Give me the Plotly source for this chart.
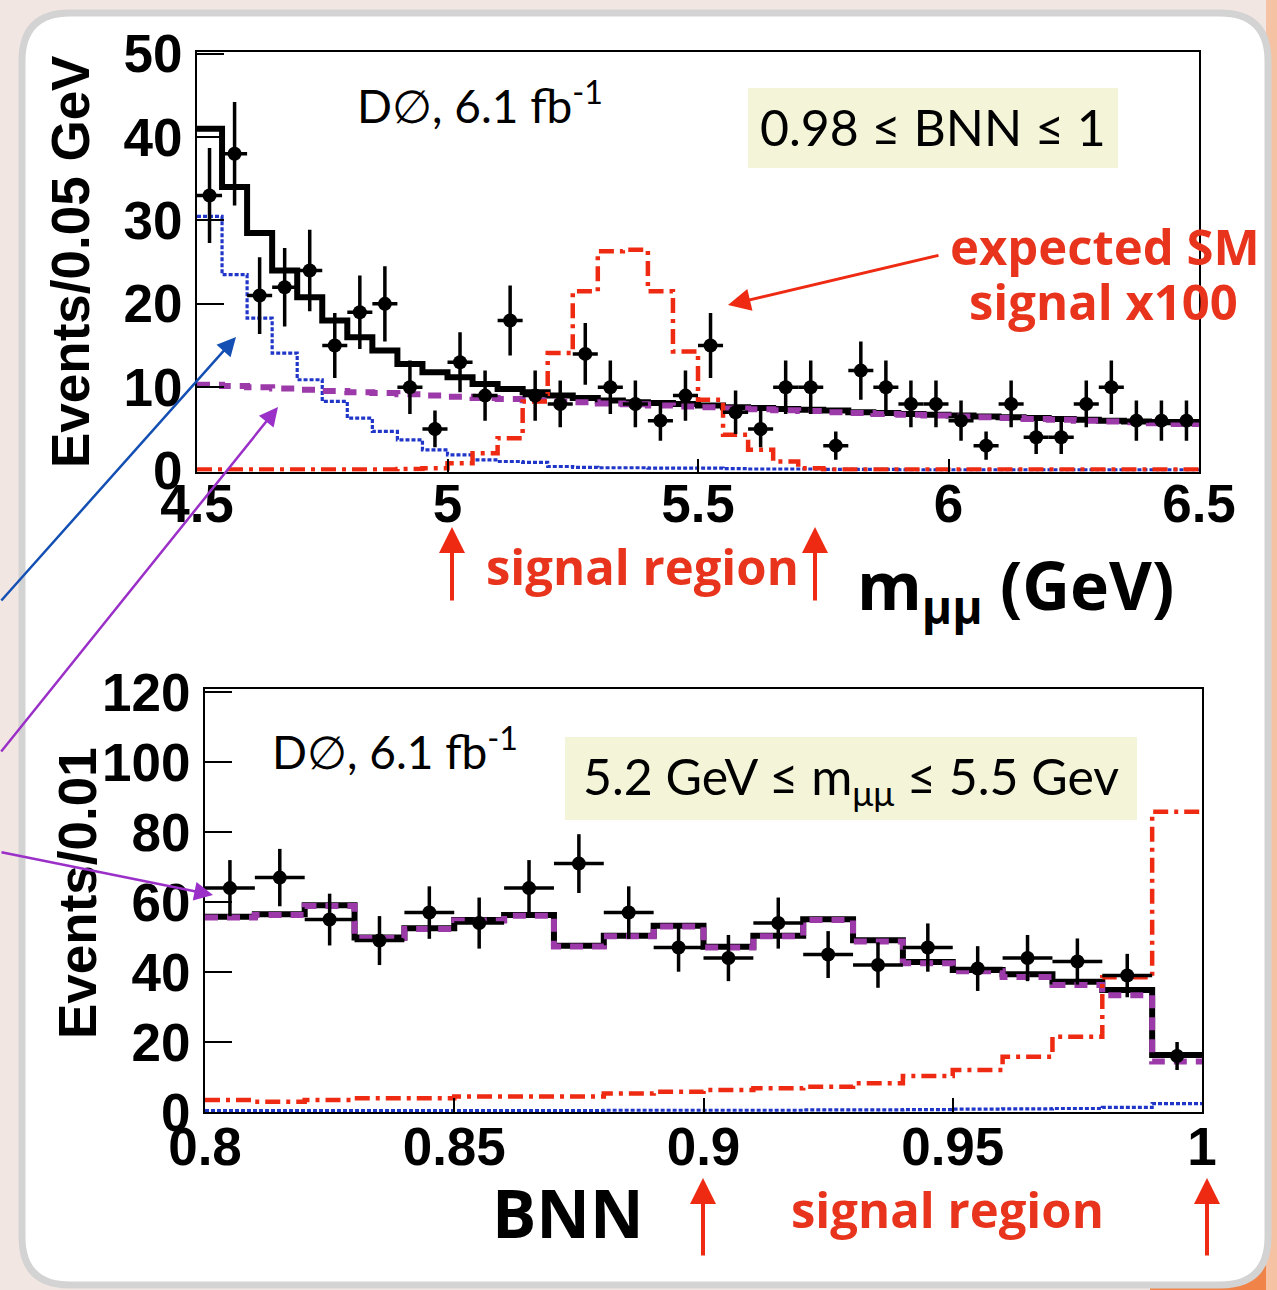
import plotly.graph_objects as go

W, H = 1277, 1290

# ---------------- top panel: m_mumu, 0.05 GeV bins from 4.5 to 6.5 ----------------
mass_edges_lo = 4.5
mass_bin = 0.05
mass_data = [33, 38, 21, 22, 24, 15, 19, 20, 10, 5,
             13, 9, 18, 9, 8, 14, 10, 8, 6, 9,
             15, 7, 5, 10, 10, 3, 12, 10, 8, 8,
             6, 3, 8, 4, 4, 8, 10, 6, 6, 6]
mass_data_err = [5.7, 6.2, 4.6, 4.7, 4.9, 3.9, 4.4, 4.5, 3.2, 2.2,
                 3.6, 3.0, 4.2, 3.0, 2.8, 3.7, 3.2, 2.8, 2.4, 3.0,
                 3.9, 2.6, 2.2, 3.2, 3.2, 1.7, 3.5, 3.2, 2.8, 2.8,
                 2.4, 1.7, 2.8, 2.0, 2.0, 2.8, 3.2, 2.4, 2.4, 2.4]
mass_total = [41, 34, 28.5, 24, 20.8, 18, 16, 14.4, 12.8, 11.8,
              11.2, 10.4, 9.8, 9.4, 9.0, 8.7, 8.4, 8.2, 8.1, 8.0,
              7.8, 7.6, 7.5, 7.4, 7.3, 7.2, 7.0, 6.9, 6.8, 6.7,
              6.6, 6.5, 6.4, 6.3, 6.2, 6.1, 6.0, 5.9, 5.8, 5.7]
mass_comb = [10.3, 10.15, 10.0, 9.85, 9.7, 9.55, 9.4, 9.3, 9.15, 9.0,
             8.85, 8.7, 8.6, 8.45, 8.3, 8.2, 8.05, 7.95, 7.8, 7.7,
             7.6, 7.45, 7.35, 7.25, 7.15, 7.0, 6.9, 6.8, 6.7, 6.6,
             6.5, 6.4, 6.3, 6.2, 6.1, 6.0, 5.9, 5.8, 5.7, 5.6]
mass_peaking = [30.5, 23.5, 18.3, 14.1, 10.9, 8.3, 6.3, 4.7, 3.7, 2.5,
                1.9, 1.3, 1.1, 1.0, 0.5, 0.4, 0.35, 0.35, 0.3, 0.3,
                0.3, 0.25, 0.2, 0.2, 0.2, 0.15, 0.15, 0.15, 0.1, 0.1,
                0.1, 0.1, 0.1, 0.1, 0.1, 0.1, 0.1, 0.1, 0.1, 0.1]
mass_signal = [0.15, 0.15, 0.15, 0.15, 0.15, 0.15, 0.15, 0.15, 0.2, 0.3,
               0.9, 2.1, 3.9, 8.3, 14.1, 21.5, 26.3, 26.5, 21.5, 14.3,
               8.5, 4.3, 2.5, 1.1, 0.3, 0.15, 0.15, 0.15, 0.15, 0.15,
               0.15, 0.15, 0.15, 0.15, 0.15, 0.15, 0.15, 0.15, 0.15, 0.15]
mass_ticks = [4.5, 5, 5.5, 6, 6.5]
mass_ticktext = ["4.5", "5", "5.5", "6", "6.5"]

# ---------------- bottom panel: BNN, 0.01 bins from 0.8 to 1.0 ----------------
bnn_edges_lo = 0.8
bnn_bin = 0.01
bnn_data = [64, 67, 55, 49, 57, 54, 64, 71, 57, 47,
            44, 54, 45, 42, 47, 41, 44, 43, 39, 16]
bnn_data_err = [8.0, 8.2, 7.4, 7.0, 7.5, 7.3, 8.0, 8.4, 7.5, 6.9,
                6.6, 7.3, 6.7, 6.5, 6.9, 6.4, 6.6, 6.6, 6.2, 4.0]
bnn_total = [55.8, 56.5, 59.1, 49.9, 52.5, 54.9, 56.3, 47.5, 50.4, 53.2,
             47.2, 50.4, 55.1, 49.1, 42.9, 40.6, 39.4, 37.2, 34.9, 16.3]
bnn_comb = [55.6, 56.3, 58.9, 49.7, 52.3, 54.7, 56.1, 47.3, 50.2, 53.0,
            47.0, 50.2, 54.9, 48.7, 42.5, 40.2, 38.6, 36.3, 33.4, 14.4]
bnn_peaking = [0.4, 0.4, 0.4, 0.4, 0.4, 0.4, 0.4, 0.4, 0.5, 0.5,
               0.5, 0.5, 0.6, 0.6, 0.7, 0.8, 0.9, 1.0, 1.3, 2.4]
bnn_signal = [3.4, 2.9, 3.4, 3.9, 3.9, 4.4, 4.4, 4.4, 5.3, 5.8,
              6.3, 6.8, 7.2, 8.2, 10.3, 12.0, 15.8, 21.5, 38.5, 85.8]
bnn_ticks = [0.8, 0.85, 0.9, 0.95, 1.0]
bnn_ticktext = ["0.8", "0.85", "0.9", "0.95", "1"]

RED = "#ee2a12"
BLUE = "#1f36c8"
PURPLE = "#9b3aa8"
TXT_RED = "#e8341c"


def step_xy(lo, width, vals):
    xs = [lo + i * width for i in range(len(vals) + 1)]
    ys = list(vals) + [vals[-1]]
    return xs, ys


def centers(lo, width, n):
    return [lo + (i + 0.5) * width for i in range(n)]


fig = go.Figure()


def add_panel(lo, width, data, err, total, comb, peak, sig, xa, ya):
    for vals, color, w, dash in [
        (peak, BLUE, 3.2, "4px,2px"),
        (total, "black", 6, "solid"),
        (comb, PURPLE, 6, "13px,9px"),
        (sig, RED, 4.5, "15px,6px,4px,6px"),
    ]:
        xs, ys = step_xy(lo, width, vals)
        fig.add_trace(go.Scatter(x=xs, y=ys, mode="lines", line_shape="hv",
                                 line=dict(color=color, width=w, dash=dash),
                                 xaxis=xa, yaxis=ya, showlegend=False,
                                 hoverinfo="skip"))
    fig.add_trace(go.Scatter(
        x=centers(lo, width, len(data)), y=data, mode="markers",
        marker=dict(color="black", size=14),
        error_y=dict(type="data", array=err, color="black", thickness=3.5, width=0),
        error_x=dict(type="constant", value=width / 2, color="black", thickness=3.5, width=0),
        xaxis=xa, yaxis=ya, showlegend=False))


add_panel(mass_edges_lo, mass_bin, mass_data, mass_data_err, mass_total,
          mass_comb, mass_peaking, mass_signal, "x", "y")
add_panel(bnn_edges_lo, bnn_bin, bnn_data, bnn_data_err, bnn_total,
          bnn_comb, bnn_peaking, bnn_signal, "x2", "y2")


def px(x):
    return x / W


def py(y):
    return 1 - y / H


tickfont = dict(family="Liberation Sans, Arial, sans-serif", size=53, color="black", weight="bold")
axis_common = dict(showgrid=False, zeroline=False, showline=True, linecolor="black",
                   linewidth=2, mirror=True, ticks="inside", tickcolor="black",
                   tickwidth=2, tickfont=tickfont, automargin=False)

fig.update_layout(
    width=W, height=H, autosize=False,
    margin=dict(l=0, r=0, t=0, b=0, pad=0),
    paper_bgcolor="#f2e6e2", plot_bgcolor="rgba(0,0,0,0)",
    xaxis=dict(domain=[px(197), px(1199)], range=[4.5, 6.5], anchor="y",
               tickvals=mass_ticks, ticktext=mass_ticktext, ticklen=13,
               ticklabelstandoff=-15, **axis_common),
    yaxis=dict(domain=[py(471.5), py(52)], range=[-0.1, 50.2], anchor="x",
               tickvals=[0, 10, 20, 30, 40, 50], ticklen=27,
               ticklabelstandoff=2, **axis_common),
    xaxis2=dict(domain=[px(205), px(1202)], range=[0.8, 1.0], anchor="y2",
                tickvals=bnn_ticks, ticktext=bnn_ticktext, ticklen=14,
                ticklabelstandoff=-13, **axis_common),
    yaxis2=dict(domain=[py(1112), py(689)], range=[0, 120.9], anchor="x2",
                tickvals=[0, 20, 40, 60, 80, 100, 120], ticklen=27,
                ticklabelstandoff=2, **axis_common),
)


def rounded_rect(x0, y0, x1, y1, r):
    return (f"M {px(x0 + r)} {py(y0)} L {px(x1 - r)} {py(y0)} "
            f"Q {px(x1)} {py(y0)} {px(x1)} {py(y0 + r)} "
            f"L {px(x1)} {py(y1 - r)} Q {px(x1)} {py(y1)} {px(x1 - r)} {py(y1)} "
            f"L {px(x0 + r)} {py(y1)} Q {px(x0)} {py(y1)} {px(x0)} {py(y1 - r)} "
            f"L {px(x0)} {py(y0 + r)} Q {px(x0)} {py(y0)} {px(x0 + r)} {py(y0)} Z")


shapes = [
    dict(type="rect", xref="paper", yref="paper", x0=px(1150), x1=1, y0=0, y1=py(1180),
         fillcolor="#f08448", line=dict(width=0), layer="below"),
    dict(type="rect", xref="paper", yref="paper", x0=px(1266), x1=1, y0=0, y1=1,
         fillcolor="#f5c2a4", line=dict(width=0), layer="below"),
    dict(type="path", xref="paper", yref="paper", path=rounded_rect(22, 13, 1268, 1285, 48),
         fillcolor="white", line=dict(color="#d3d3d3", width=7), layer="below"),
    dict(type="rect", xref="paper", yref="paper", x0=px(748), x1=px(1118), y0=py(168), y1=py(88),
         fillcolor="#f4f5d8", line=dict(width=0), layer="below"),
    dict(type="rect", xref="paper", yref="paper", x0=px(565), x1=px(1137), y0=py(820), y1=py(737),
         fillcolor="#f4f5d8", line=dict(width=0), layer="below"),
]
fig.update_layout(shapes=shapes)

GILL = "Lato, Open Sans, sans-serif"
WIDE = "Open Sans, Lato, sans-serif"
ann = []


def text(x, y, s, size, color="black", bold=False, xanchor="center", angle=0, family=GILL):
    ann.append(dict(xref="paper", yref="paper", x=px(x), y=py(y), text=s, showarrow=False,
                    xanchor=xanchor, yanchor="middle", textangle=angle,
                    font=dict(family=family, size=size, color=color,
                              weight="bold" if bold else "normal")))


def arrow(tx, ty, sx, sy, color, width, size):
    ann.append(dict(xref="paper", yref="paper", x=px(tx), y=py(ty), ax=sx - tx, ay=sy - ty,
                    axref="pixel", ayref="pixel", text="", showarrow=True, arrowhead=2,
                    arrowsize=size, arrowwidth=width, arrowcolor=color, standoff=0))


HELV = "Liberation Sans, Arial, sans-serif"
text(70, 262, "Events/0.05 GeV", 53, bold=True, angle=-90, family=HELV)
text(77, 893, "Events/0.01", 53, bold=True, angle=-90, family=HELV)

text(355, 103, "D\u2205, 6.1 fb<sup>-1</sup>", 46, xanchor="left")
text(933, 127, "0.98 \u2264 BNN \u2264 1", 50)
text(1262, 246, "expected SM", 49, color=TXT_RED, bold=True, xanchor="right", family=WIDE)
text(1240, 301, "signal x100", 49, color=TXT_RED, bold=True, xanchor="right", family=WIDE)
text(642, 566, "signal region", 49, color=TXT_RED, bold=True, family=WIDE)
text(855, 588, "m<sub>\u03bc\u03bc</sub> (GeV)", 66, bold=True, xanchor="left", family=WIDE)

text(270, 748, "D\u2205, 6.1 fb<sup>-1</sup>", 46, xanchor="left")
text(851, 779, "5.2 GeV \u2264 m<sub>\u03bc\u03bc</sub> \u2264 5.5 Gev", 50)
text(490, 1212, "BNN", 66, bold=True, xanchor="left", family=WIDE)
text(947, 1209, "signal region", 49, color=TXT_RED, bold=True, family=WIDE)

arrow(236, 337, 0, 602, "#1450b4", 2.5, 1.5)
arrow(278, 407, 0, 753, "#9b30c8", 2.5, 1.5)
arrow(213, 895, 0, 852, "#9b30c8", 2.5, 1.5)
arrow(728, 305, 940, 255, RED, 3, 1.5)
for xx, ytip, ytail in [(452, 527, 602), (815, 527, 602), (703, 1178, 1257), (1207, 1178, 1257)]:
    arrow(xx, ytip, xx, ytail, RED, 4, 1.3)

fig.update_layout(annotations=ann)
fig.write_html("out.html", config={"displayModeBar": False},
               post_script="document.body.style.margin='0';document.body.style.overflow='hidden';")
